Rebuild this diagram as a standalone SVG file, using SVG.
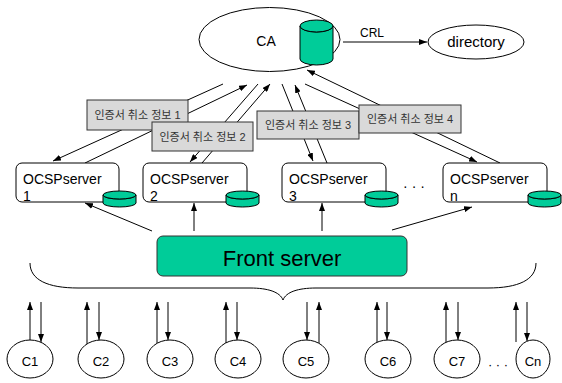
<svg xmlns="http://www.w3.org/2000/svg" width="562" height="383" viewBox="0 0 562 383">
<style>
.ln{stroke:#000;stroke-width:1;fill:none}
.ell{fill:#fff;stroke:#000;stroke-width:1}
.cyl{fill:#00cc99;stroke:#000;stroke-width:1}
.t{font-family:"Liberation Sans",Arial,sans-serif;fill:#000}
.kr{font-family:"Liberation Sans","Noto Sans CJK KR",sans-serif;font-size:11px;fill:#333}
.lbl{fill:#d9d9d9;stroke:#333;stroke-width:1}
.srv{fill:#fff;stroke:#000;stroke-width:1}
</style>
<defs>
<marker id="ah" markerWidth="8" markerHeight="6" refX="8" refY="3" orient="auto" markerUnits="userSpaceOnUse"><path d="M0,0 L8,3 L0,6 z" fill="#000"/></marker>
</defs>
<g id="connectors">
<line class="ln" x1="343" y1="42" x2="427" y2="42" marker-end="url(#ah)"/>
<line class="ln" x1="223" y1="84" x2="53" y2="161" marker-end="url(#ah)"/>
<line class="ln" x1="85" y1="163" x2="247" y2="85" marker-end="url(#ah)"/>
<line class="ln" x1="258" y1="84" x2="190" y2="162" marker-end="url(#ah)"/>
<line class="ln" x1="202" y1="163" x2="270" y2="84" marker-end="url(#ah)"/>
<line class="ln" x1="282" y1="84" x2="313" y2="161" marker-end="url(#ah)"/>
<line class="ln" x1="327" y1="163" x2="295" y2="85" marker-end="url(#ah)"/>
<line class="ln" x1="500" y1="163" x2="307" y2="70" marker-end="url(#ah)"/>
<line class="ln" x1="305" y1="84" x2="477" y2="162" marker-end="url(#ah)"/>
<line class="ln" x1="152" y1="231" x2="85" y2="203" marker-end="url(#ah)"/>
<line class="ln" x1="194" y1="231" x2="194" y2="203" marker-end="url(#ah)"/>
<line class="ln" x1="322" y1="231" x2="322" y2="203" marker-end="url(#ah)"/>
<line class="ln" x1="392" y1="230" x2="472" y2="207" marker-end="url(#ah)"/>
<line class="ln" x1="30" y1="340" x2="30" y2="302" marker-end="url(#ah)"/>
<line class="ln" x1="41" y1="302" x2="41" y2="342" marker-end="url(#ah)"/>
<line class="ln" x1="87" y1="344" x2="87" y2="302" marker-end="url(#ah)"/>
<line class="ln" x1="99" y1="302" x2="99" y2="340" marker-end="url(#ah)"/>
<line class="ln" x1="157" y1="343" x2="157" y2="302" marker-end="url(#ah)"/>
<line class="ln" x1="168" y1="302" x2="168" y2="340" marker-end="url(#ah)"/>
<line class="ln" x1="226" y1="343" x2="226" y2="302" marker-end="url(#ah)"/>
<line class="ln" x1="237" y1="302" x2="237" y2="340" marker-end="url(#ah)"/>
<line class="ln" x1="307" y1="302" x2="307" y2="340" marker-end="url(#ah)"/>
<line class="ln" x1="319" y1="343" x2="319" y2="302" marker-end="url(#ah)"/>
<line class="ln" x1="377" y1="342" x2="377" y2="302" marker-end="url(#ah)"/>
<line class="ln" x1="387" y1="302" x2="387" y2="340" marker-end="url(#ah)"/>
<line class="ln" x1="446" y1="342" x2="446" y2="302" marker-end="url(#ah)"/>
<line class="ln" x1="458" y1="302" x2="458" y2="340" marker-end="url(#ah)"/>
<line class="ln" x1="516" y1="342" x2="516" y2="302" marker-end="url(#ah)"/>
<line class="ln" x1="527" y1="302" x2="527" y2="341" marker-end="url(#ah)"/>
<text class="t" x="360" y="37" font-size="12">CRL</text>
</g>
<g id="labels">
<g id="info1"><rect class="lbl" x="87" y="100" width="101" height="30"/><text class="kr" x="137.5" y="119" text-anchor="middle">인증서 취소 정보 1</text></g>
<g id="info2"><rect class="lbl" x="152" y="122" width="101" height="29"/><text class="kr" x="202.5" y="141" text-anchor="middle">인증서 취소 정보 2</text></g>
<g id="info3"><rect class="lbl" x="257" y="111" width="102" height="28"/><text class="kr" x="308" y="129" text-anchor="middle">인증서 취소 정보 3</text></g>
<g id="info4"><rect class="lbl" x="359" y="105" width="102" height="28"/><text class="kr" x="410" y="123" text-anchor="middle">인증서 취소 정보 4</text></g>
</g>
<g id="ca">
<ellipse class="ell" cx="269.5" cy="39.5" rx="70.5" ry="32"/>
<text class="t" x="266" y="46" font-size="14" text-anchor="middle">CA</text>
<path class="cyl" d="M300,26 A16.5,6 0 0 0 333,26 V59 A16.5,6 0 0 1 300,59 Z"/>
<ellipse class="cyl" cx="316.5" cy="26" rx="16.5" ry="6"/>
</g>
<g id="directory">
<ellipse class="ell" cx="476" cy="42" rx="48" ry="17"/>
<text class="t" x="476" y="47" font-size="15" text-anchor="middle">directory</text>
</g>
<g id="ocsp1">
<rect class="srv" x="16" y="163" width="103" height="39" rx="6"/>
<text class="t" x="23" y="184" font-size="14">OCSPserver</text>
<text class="t" x="23" y="201" font-size="14">1</text>
<path class="cyl" d="M103,195 A16.5,4 0 0 0 136,195 V203 A16.5,4 0 0 1 103,203 Z"/>
<ellipse class="cyl" cx="119.5" cy="195" rx="16.5" ry="4"/>
</g>
<g id="ocsp2">
<rect class="srv" x="143" y="163" width="104" height="39" rx="6"/>
<text class="t" x="150" y="184" font-size="14">OCSPserver</text>
<text class="t" x="150" y="201" font-size="14">2</text>
<path class="cyl" d="M226,195 A16.5,4 0 0 0 259,195 V203 A16.5,4 0 0 1 226,203 Z"/>
<ellipse class="cyl" cx="242.5" cy="195" rx="16.5" ry="4"/>
</g>
<g id="ocsp3">
<rect class="srv" x="282" y="163" width="104" height="39" rx="6"/>
<text class="t" x="289" y="184" font-size="14">OCSPserver</text>
<text class="t" x="289" y="201" font-size="14">3</text>
<path class="cyl" d="M365,195 A16.5,4 0 0 0 398,195 V203 A16.5,4 0 0 1 365,203 Z"/>
<ellipse class="cyl" cx="381.5" cy="195" rx="16.5" ry="4"/>
</g>
<text class="t" x="414" y="191" font-size="14" text-anchor="middle">· · ·</text>
<g id="ocspn">
<rect class="srv" x="443" y="163" width="104" height="39" rx="6"/>
<text class="t" x="450" y="184" font-size="14">OCSPserver</text>
<text class="t" x="450" y="201" font-size="14">n</text>
<path class="cyl" d="M528,195 A16.5,4 0 0 0 561,195 V203 A16.5,4 0 0 1 528,203 Z"/>
<ellipse class="cyl" cx="544.5" cy="195" rx="16.5" ry="4"/>
</g>
<g id="front">
<rect x="157" y="236" width="250" height="40" rx="6" fill="#00cc99" stroke="#333" stroke-width="1"/>
<text class="t" x="282" y="266" font-size="22" text-anchor="middle" fill="#111">Front server</text>
</g>
<g id="brace">
<path class="ln" d="M30,263 C30,280 48,288 78,288 L250,288 C268,288 280,292 283,300 C286,292 298,288 316,288 L488,288 C518,288 536,280 536,263"/>
</g>
<g id="c1"><ellipse class="ell" cx="30" cy="359" rx="23" ry="19"/><text class="t" x="30" y="366" font-size="13" text-anchor="middle">C1</text></g>
<g id="c2"><ellipse class="ell" cx="101" cy="359" rx="23" ry="19"/><text class="t" x="101" y="366" font-size="13" text-anchor="middle">C2</text></g>
<g id="c3"><ellipse class="ell" cx="170" cy="359" rx="23" ry="19"/><text class="t" x="170" y="366" font-size="13" text-anchor="middle">C3</text></g>
<g id="c4"><ellipse class="ell" cx="238" cy="359" rx="23" ry="19"/><text class="t" x="238" y="366" font-size="13" text-anchor="middle">C4</text></g>
<g id="c5"><ellipse class="ell" cx="306" cy="359" rx="23" ry="19"/><text class="t" x="306" y="366" font-size="13" text-anchor="middle">C5</text></g>
<g id="c6"><ellipse class="ell" cx="388" cy="359" rx="23" ry="19"/><text class="t" x="388" y="366" font-size="13" text-anchor="middle">C6</text></g>
<g id="c7"><ellipse class="ell" cx="457" cy="359" rx="23" ry="19"/><text class="t" x="457" y="366" font-size="13" text-anchor="middle">C7</text></g>
<text class="t" x="498" y="369" font-size="13" text-anchor="middle">· · ·</text>
<g id="cn"><ellipse class="ell" cx="533" cy="359" rx="17" ry="19"/><text class="t" x="533" y="366" font-size="13" text-anchor="middle">Cn</text></g>
</svg>
